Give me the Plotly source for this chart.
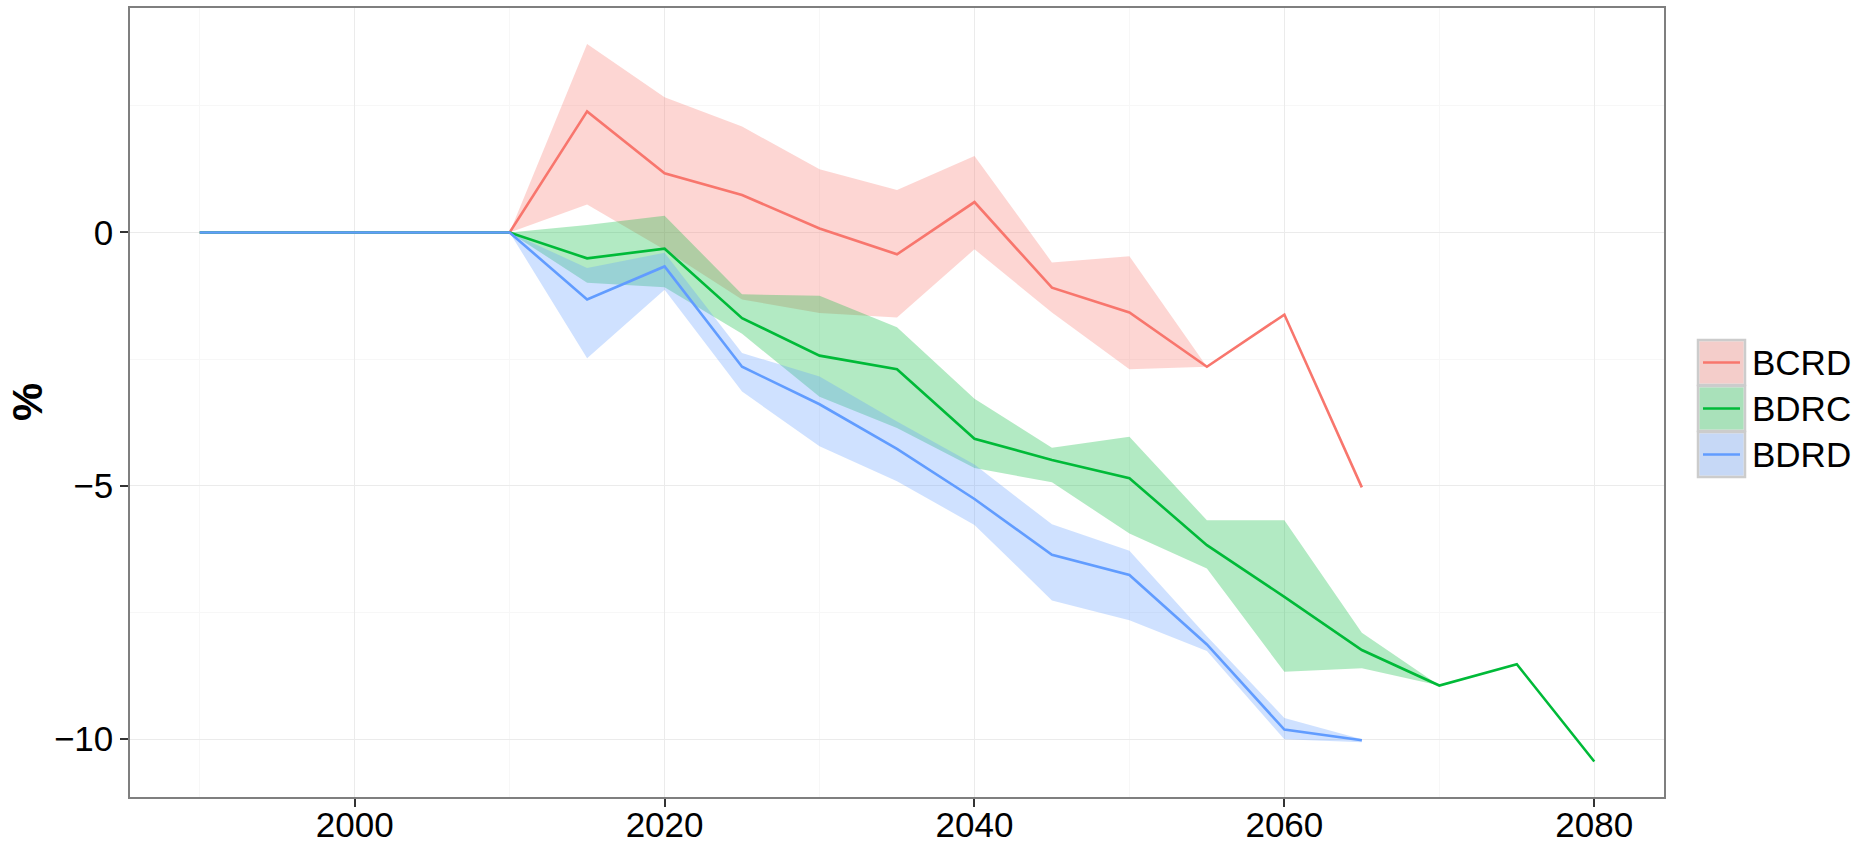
import plotly.graph_objects as go

# ---------------- data ----------------
years = [1990, 1995, 2000, 2005, 2010, 2015, 2020, 2025, 2030, 2035,
         2040, 2045, 2050, 2055, 2060, 2065, 2070, 2075, 2080]

series_names = ["BCRD", "BDRC", "BDRD"]

bcrd_mean = [0, 0, 0, 0, 0, 2.39, 1.17, 0.74, 0.08, -0.43, 0.60, -1.09, -1.58, -2.65, -1.62, -5.03]
bcrd_upper = [0, 0, 0, 0, 0, 3.72, 2.67, 2.09, 1.25, 0.84, 1.51, -0.59, -0.47, -2.65]
bcrd_lower = [0, 0, 0, 0, 0, 0.55, -0.34, -1.32, -1.59, -1.68, -0.33, -1.58, -2.70, -2.65]

bdrc_mean = [0, 0, 0, 0, 0, -0.51, -0.32, -1.69, -2.43, -2.70, -4.07, -4.49, -4.85, -6.17, -7.19, -8.24, -8.94, -8.52, -10.44]
bdrc_upper = [0, 0, 0, 0, 0, 0.15, 0.33, -1.22, -1.25, -1.87, -3.28, -4.25, -4.03, -5.68, -5.68, -7.90, -8.94]
bdrc_lower = [0, 0, 0, 0, 0, -0.99, -1.08, -2.00, -3.24, -3.86, -4.65, -4.93, -5.94, -6.63, -8.67, -8.60, -8.94]

bdrd_mean = [0, 0, 0, 0, 0, -1.32, -0.67, -2.65, -3.39, -4.27, -5.26, -6.36, -6.76, -8.13, -9.81, -10.02]
bdrd_upper = [0, 0, 0, 0, 0, -0.70, -0.40, -2.38, -2.84, -3.73, -4.58, -5.76, -6.28, -7.97, -9.58, -10.00]
bdrd_lower = [0, 0, 0, 0, 0, -2.48, -1.13, -3.14, -4.22, -4.91, -5.77, -7.26, -7.65, -8.26, -10.00, -10.06]

x_ticks = [2000, 2020, 2040, 2060, 2080]
y_ticks = [-10, -5, 0]
y_tick_labels = ["\u221210", "\u22125", "0"]

# ---------------- styling ----------------
line_colors = ["#F8766D", "#00BA38", "#619CFF"]
fill_colors = ["rgba(248,118,109,0.3)", "rgba(0,186,56,0.3)", "rgba(97,156,255,0.3)"]
FONT = "Liberation Sans, Arial, Helvetica, sans-serif"

means = [bcrd_mean, bdrc_mean, bdrd_mean]
uppers = [bcrd_upper, bdrc_upper, bdrd_upper]
lowers = [bcrd_lower, bdrc_lower, bdrd_lower]

fig = go.Figure()

# ribbons first
for name, up, lo, fc in zip(series_names, uppers, lowers, fill_colors):
    xs = years[:len(up)]
    fig.add_trace(go.Scatter(
        x=xs + xs[::-1], y=up + lo[::-1],
        fill="toself", fillcolor=fc, mode="lines",
        line=dict(width=0, color="rgba(0,0,0,0)"),
        hoverinfo="skip", showlegend=False, name=name + " band"))

# then lines
for name, m, lc in zip(series_names, means, line_colors):
    fig.add_trace(go.Scatter(
        x=years[:len(m)], y=m, mode="lines",
        line=dict(color=lc, width=2.6), name=name, showlegend=False))

# plot-area geometry (pixels)
W, H = 1870, 846
L, R, T, B = 130, 1664, 8, 797
pw, ph = R - L, B - T


def px(x):
    return (x - L) / pw


def py(y):
    return (B - y) / ph


# manual ggplot-style legend
shapes = []
annotations = []
key_x0, key_x1 = 1698, 1745
key_tops = [340, 386, 432]
key_h = 45
for name, lc, fc, top in zip(series_names, line_colors, fill_colors, key_tops):
    shapes.append(dict(type="rect", xref="paper", yref="paper",
                       x0=px(key_x0), x1=px(key_x1), y0=py(top + key_h), y1=py(top),
                       fillcolor="#F2F2F2", line=dict(color="#CCCCCC", width=2.5),
                       layer="above"))
    shapes.append(dict(type="rect", xref="paper", yref="paper",
                       x0=px(key_x0 + 1.5), x1=px(key_x1 - 1.5), y0=py(top + key_h - 1.5), y1=py(top + 1.5),
                       fillcolor=fc, line=dict(width=0), layer="above"))
    cy = top + key_h / 2
    shapes.append(dict(type="line", xref="paper", yref="paper",
                       x0=px(key_x0 + 5), x1=px(key_x1 - 5), y0=py(cy), y1=py(cy),
                       line=dict(color=lc, width=2.6), layer="above"))
    annotations.append(dict(text=name, xref="paper", yref="paper",
                            x=px(1750), y=py(cy), xanchor="left", yanchor="middle",
                            showarrow=False, font=dict(family=FONT, size=35, color="black")))

# y-axis title
annotations.append(dict(text="<b>%</b>", xref="paper", yref="paper",
                        x=px(27), y=py(402), xanchor="center", yanchor="middle",
                        textangle=-90, showarrow=False,
                        font=dict(family=FONT, size=43, color="black")))

fig.update_layout(
    width=W, height=H,
    margin=dict(l=L, r=W - R, t=T, b=H - B, pad=0, autoexpand=False),
    plot_bgcolor="white", paper_bgcolor="white",
    font=dict(family=FONT, size=35, color="black"),
    showlegend=False,
    shapes=shapes, annotations=annotations,
)

fig.update_xaxes(
    automargin=False,
    range=[1985.5, 2084.5], tickvals=x_ticks, ticktext=[str(v) for v in x_ticks],
    showgrid=True, gridcolor="#EBEBEB", gridwidth=1.3,
    minor=dict(tickvals=[1990, 2010, 2030, 2050, 2070], showgrid=True,
               gridcolor="#F7F7F7", gridwidth=1.3, ticks=""),
    ticks="outside", ticklen=8, tickwidth=1.5, tickcolor="#333333",
    ticklabelstandoff=-12,
    showline=True, linecolor="#7F7F7F", linewidth=1.5, mirror=True,
    zeroline=False, tickfont=dict(family=FONT, size=35, color="black"),
)
fig.update_yaxes(
    automargin=False,
    range=[-11.14, 4.43], tickvals=y_ticks, ticktext=y_tick_labels,
    showgrid=True, gridcolor="#EBEBEB", gridwidth=1.3,
    minor=dict(tickvals=[-7.5, -2.5, 2.5], showgrid=True,
               gridcolor="#F7F7F7", gridwidth=1.3, ticks=""),
    ticks="outside", ticklen=8, tickwidth=1.5, tickcolor="#333333",
    showline=True, linecolor="#7F7F7F", linewidth=1.5, mirror=True,
    zeroline=False, tickfont=dict(family=FONT, size=35, color="black"),
)

fig.write_html("out.html")
